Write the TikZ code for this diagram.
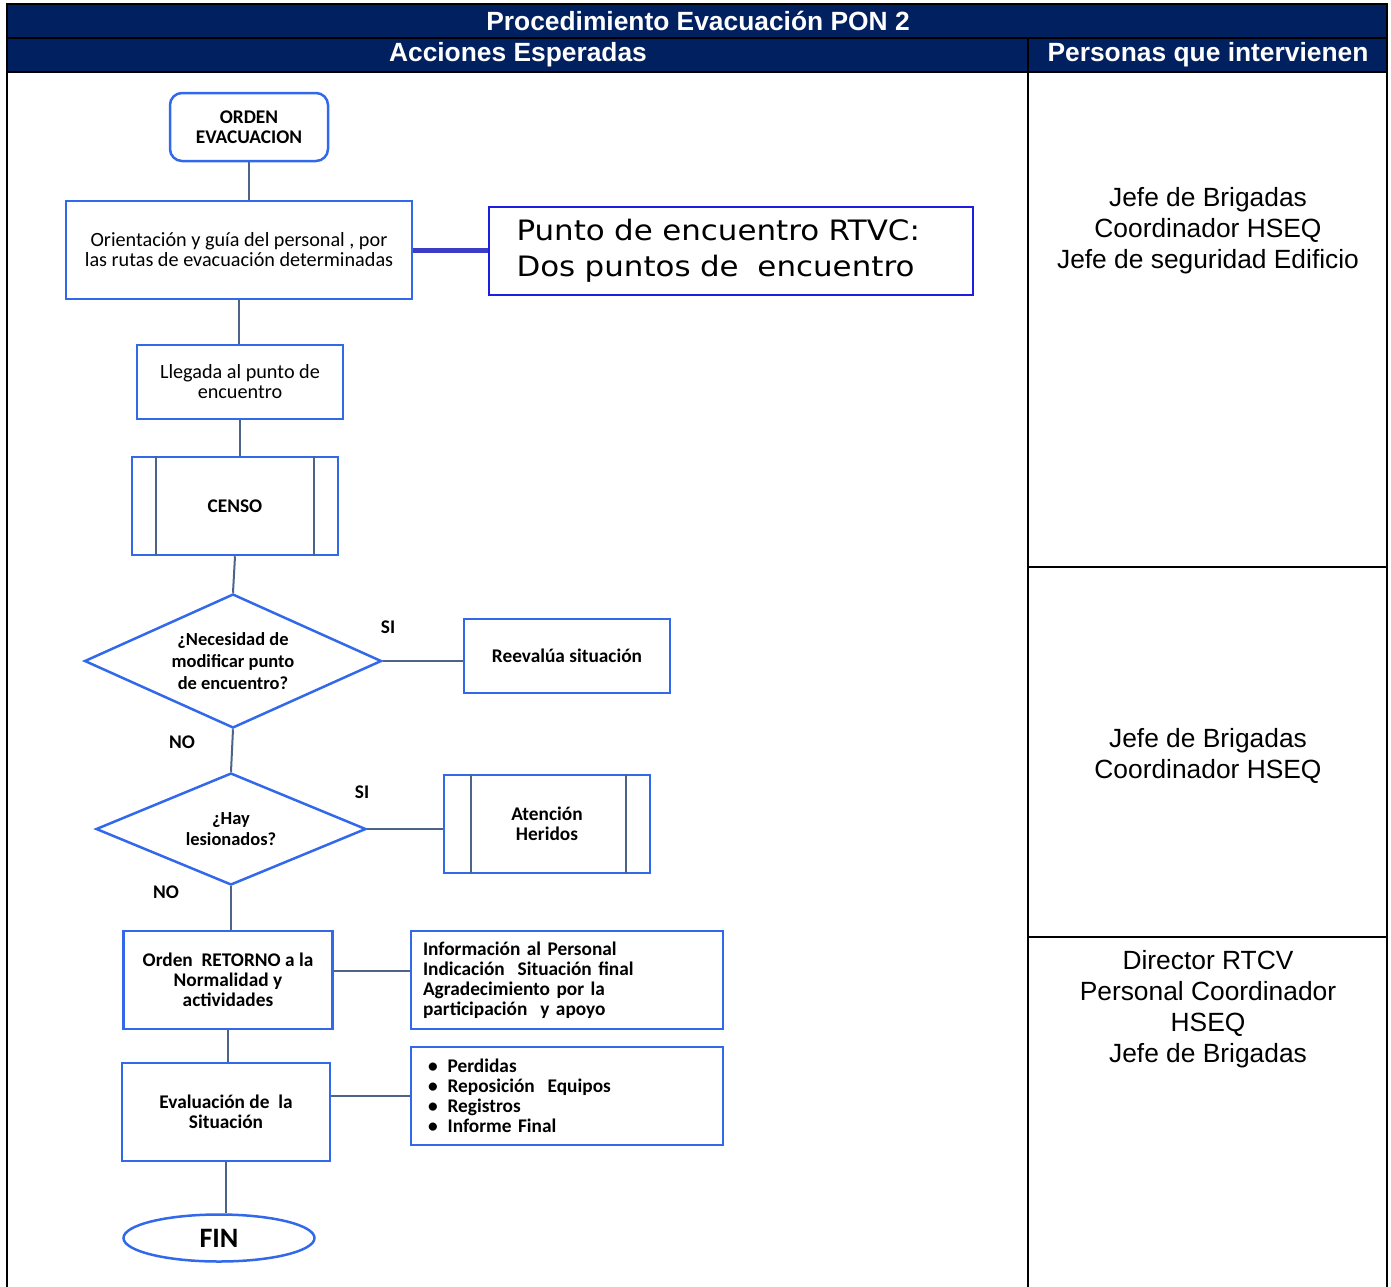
\documentclass[tikz,border=0pt]{standalone}
\usepackage{fontspec}
\setmainfont{Liberation Sans}
\newfontfamily\flowfont{Carlito}
\newfontfamily\pointfont{DejaVu Sans}[FakeStretch=1.1]
\usepackage{tikz}
\usetikzlibrary{shapes.geometric, calc}
\definecolor{headnavy}{RGB}{0,32,96}
\definecolor{boxblue}{RGB}{50,105,235}
\definecolor{pointblue}{RGB}{30,30,225}
\definecolor{linkslate}{RGB}{75,100,135}
\definecolor{barblue}{RGB}{60,60,200}

\begin{document}
\begin{tikzpicture}[x=0.2mm, y=-0.2mm,
    %% Styles  (1 unit = 1 pixel of the sheet)
    box/.style={
      rectangle, draw=boxblue, line width=0.5mm,
      minimum width=41.2mm, minimum height=19.6mm,
      inner sep=2pt, text centered, align=center,
      font=\flowfont\fontsize{11}{11.4}\selectfont\bfseries
    },
    plainBox/.style={
      box, font=\flowfont\fontsize{11.5}{11.4}\selectfont
    },
    listBox/.style={
      box, minimum width=62.4mm, text width=57.6mm,
      inner xsep=2.4mm, align=left
    },
    decision/.style={
      diamond, draw=boxblue, line width=0.5mm,
      inner sep=0pt, text centered, align=center,
      font=\flowfont\fontsize{10.5}{12.4}\selectfont\bfseries
    },
    link/.style={draw=linkslate, line width=0.4mm},
    lbl/.style={font=\flowfont\fontsize{11}{12}\selectfont\bfseries},
    who/.style={font=\fontsize{15}{17.6}\selectfont, align=center},
    head/.style={font=\fontsize{15}{18}\selectfont\bfseries, text=white},
    grid/.style={draw=black, line width=0.5mm}
  ]
  \useasboundingbox (0,0) rectangle (1391,1287);

  %% ── Table frame ─────────────────────────────────────────
  \fill[headnavy] (7,4) rectangle (1387,72);
  \draw[grid] (7,1287) -- (7,4) -- (1387,4) -- (1387,1287);
  \draw[grid, line width=0.4mm] (7,38) -- (1387,38);
  \draw[grid, line width=0.4mm] (7,72) -- (1387,72);
  \draw[grid, line width=0.35mm] (1028,38) -- (1028,1287);
  \draw[grid] (1028,567) -- (1387,567);
  \draw[grid] (1028,937) -- (1387,937);

  \node[head] (title)    at (698,21) {Procedimiento Evacuación PON 2};
  \node[head] (acciones) at (518,55) {Acciones Esperadas};
  \node[head] (personas) at (1208,55) {Personas que intervienen};

  %% ── Right column: people ────────────────────────────────
  \node[who] (whoA) at (1208,231) {Jefe de Brigadas\\Coordinador HSEQ\\Jefe de seguridad Edificio};
  \node[who] (whoB) at (1208,756) {Jefe de Brigadas\\Coordinador HSEQ};
  \node[who] (whoC) at (1208,1009) {Director RTCV\\Personal Coordinador\\HSEQ\\Jefe de Brigadas};

  %% ── Row 0: Orden  (y = 127) ──────────────────────────────
  \node[box, rounded corners=2.4mm, minimum width=31.6mm, minimum height=13.6mm] (orden) at (249,127)
    {ORDEN\\EVACUACION};

  %% ── Row 1: Orientacion | Punto  (y = 250) ───────────────
  \node[plainBox, minimum width=69.2mm] (orient) at (239,250)
    {Orientación y guía del personal , por\\las rutas de evacuación determinadas};

  \node[rectangle, draw=pointblue, line width=0.4mm, minimum width=96.6mm, minimum height=17.6mm,
        text width=85.8mm, inner xsep=5.4mm, align=left,
        font=\pointfont\fontsize{16}{20.4}\selectfont] (punto) at (731,251)
    {Punto de encuentro RTVC:\\Dos puntos de\ \ encuentro};

  %% ── Row 2: Llegada  (y = 382) ────────────────────────────
  \node[plainBox, minimum height=14.8mm] (llegada) at (240,382)
    {Llegada al punto de\\encuentro};

  %% ── Row 3: Censo  (y = 506) ──────────────────────────────
  \node[box] (censo) at (235,506) {CENSO};

  %% ── Row 4: first decision  (y = 661) ─────────────────────
  \node[decision, aspect=2.2, minimum width=59.4mm, minimum height=26.8mm] (cambio) at (233,661)
    {¿Necesidad de\\modificar punto\\de encuentro?};
  \node[box, minimum height=14.8mm] (reevalua) at (567,656) {Reevalúa situación};

  %% ── Row 5: second decision  (y = 829) ────────────────────
  \node[decision, aspect=2.4, minimum width=54mm, minimum height=22.4mm, font=\flowfont\fontsize{10.5}{11.8}\selectfont\bfseries] (heridos) at (231,829)
    {¿Hay\\lesionados?};
  \node[box] (atencion) at (547,824) {Atención\\Heridos};

  %% ── Row 6: Retorno | Informacion  (y = 980) ─────────────
  \node[box, minimum width=41.8mm] (retorno) at (228,980)
    {Orden\ \ RETORNO a la\\Normalidad y\\actividades};
  \node[listBox] (info) at (567,980)
    {Información al Personal\\Indicación\ \ Situación final\\Agradecimiento por la\\participación\ \ y apoyo};

  %% ── Row 7: Evaluacion | lista  (y = 1112) ───────────────
  \node[box, minimum width=41.6mm] (evalua) at (226,1112)
    {Evaluación de\ \ la\\Situación};
  \node[listBox, inner xsep=3.4mm, text width=55.6mm] (lista) at (567,1096)
    {\textbullet\hspace{2mm}Perdidas\\
     \textbullet\hspace{2mm}Reposición\ \ Equipos\\
     \textbullet\hspace{2mm}Registros\\
     \textbullet\hspace{2mm}Informe Final};

  %% ── Row 8: Fin  (y = 1238) ───────────────────────────────
  \node[ellipse, draw=boxblue, line width=0.5mm, minimum width=38.2mm, minimum height=9.4mm,
        inner sep=0pt, font=\flowfont\fontsize{16}{16}\selectfont\bfseries] (fin) at (219,1238) {FIN};

  %% ── Branch labels ───────────────────────────────────────
  \node[lbl] (siA) at (388,627) {SI};
  \node[lbl] (noA) at (182,742) {NO};
  \node[lbl] (siB) at (362,792) {SI};
  \node[lbl] (noB) at (166,892) {NO};

  %% ════════════════════════════════════════════════════════
  %% ── Connectors ──────────────────────────────────────────
  %% ════════════════════════════════════════════════════════

  % process side bars
  \draw[link] ($(censo.north west)+(25,0)$) -- ($(censo.south west)+(25,0)$);
  \draw[link] ($(censo.north east)+(-25,0)$) -- ($(censo.south east)+(-25,0)$);
  \draw[link] ($(atencion.north west)+(28,0)$) -- ($(atencion.south west)+(28,0)$);
  \draw[link] ($(atencion.north east)+(-25,0)$) -- ($(atencion.south east)+(-25,0)$);

  % main column
  \draw[link] (orden.south) -- (orden.south |- orient.north);
  \draw[link] (orient.south) -- (orient.south |- llegada.north);
  \draw[link] (llegada.south) -- (llegada.south |- censo.north);
  \draw[link] (censo.south) -- (cambio.north);
  \draw[link] (cambio.south) -- (heridos.north);
  \draw[link] (heridos.south) -- (heridos.south |- retorno.north);
  \draw[link] (retorno.south) -- (retorno.south |- evalua.north);
  \draw[link] (evalua.south) -- (evalua.south |- fin.north);

  % side branches
  \draw[barblue, line width=1mm] (orient.east) -- (orient.east -| punto.west);
  \draw[link] (cambio.east) -- (cambio.east -| reevalua.west);
  \draw[link] (heridos.east) -- (heridos.east -| atencion.west);
  \draw[link] ($(retorno.east)+(0,-9)$) -- ($(retorno.east -| info.west)+(0,-9)$);
  \draw[link] (lista.west -| evalua.east) -- (lista.west);

\end{tikzpicture}
\end{document}
